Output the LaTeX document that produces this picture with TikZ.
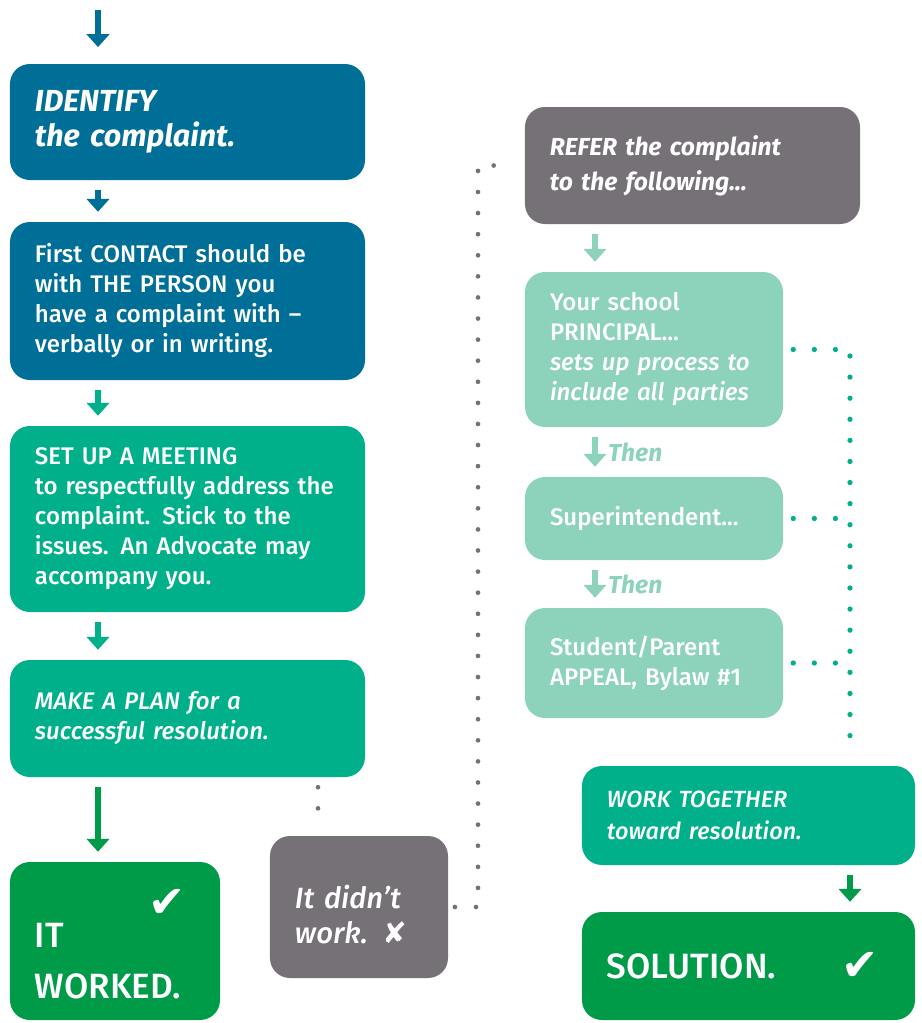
\documentclass[tikz,border=0pt]{standalone}
\usepackage{fontspec}
\setmainfont{Fira Sans}[UprightFont=* Medium,ItalicFont=* Medium Italic,
  BoldFont=* Bold,BoldItalicFont=* Bold Italic]
\newfontfamily\symfont{DejaVu Sans}
\usetikzlibrary{arrows.meta}
\definecolor{cblue}{RGB}{0,111,152}
\definecolor{cteal}{RGB}{0,176,138}
\definecolor{cgreen}{RGB}{0,155,72}
\definecolor{clight}{RGB}{141,211,188}
\definecolor{cgray}{RGB}{118,113,118}
\newcommand{\body}{\fontsize{20.5}{25.6}\selectfont}
\newcommand{\chk}{{\symfont ✔}}
\newcommand{\ex}{{\symfont ✘}}

\begin{document}
\begin{tikzpicture}[x=0.03cm,y=-0.03cm,
    box/.style 2 args={rounded corners=17pt,inner xsep=0.75cm,inner ysep=0pt,
      text width=#1,minimum height=#2,align=left,text=white,font=\body},
    flow/.style={line width=4.5pt,-{Triangle[width=19pt,length=11pt]},
      shorten <=0.3cm,shorten >=0.3cm},
    dots/.style={line width=#1,line cap=round,dash pattern=on 0pt off 18pt,
      shorten <=0.3cm,shorten >=0.3cm},
    thenlabel/.style={midway,anchor=west,xshift=9pt,inner sep=0pt,text=clight,
      font=\bfseries\itshape\fontsize{21}{25}\selectfont}]
  \useasboundingbox (0,0) rectangle (922,1023);

  \node[box={9.15cm}{3.48cm},fill=cblue,font=\bfseries\itshape\fontsize{26}{30}\selectfont]
    (identify) at (187.5,122) {IDENTIFY\\the complaint.};
  \node[box={9.15cm}{4.74cm},fill=cblue] (contact) at (187.5,301)
    {First CONTACT should be\\with THE PERSON you\\have a complaint with –\\verbally or in writing.};
  \node[box={9.15cm}{5.58cm},fill=cteal] (meeting) at (187.5,519)
    {SET UP A MEETING\\\mbox{to respectfully address the}\\complaint. Stick to the\\issues. An Advocate may\\accompany you.};
  \node[box={9.15cm}{3.51cm},fill=cteal,font=\itshape\body] (plan) at (187.5,718.5)
    {MAKE A PLAN for a\\successful resolution.};
  \node[box={4.8cm}{4.74cm},fill=cgreen,font=\fontsize{30}{44}\selectfont,text height=55pt]
    (worked) at (115,941) {IT\\WORKED.};
  \node[text=white,font=\fontsize{38}{40}\selectfont] (tick1) at (167,903) {\chk};
  \node[box={3.84cm}{4.26cm},fill=cgray,font=\itshape\fontsize{25}{30}\selectfont,text height=33pt]
    (didnt) at (359,907) {It didn’t\\work. \ex};

  \node[box={8.55cm}{3.51cm},fill=cgray,font=\bfseries\itshape\fontsize{21}{30}\selectfont]
    (refer) at (692.5,165.5) {REFER the complaint\\to the following...};
  \node[box={6.24cm}{4.65cm},fill=clight] (principal) at (654,349.5)
    {Your school\\PRINCIPAL...\\\textit{sets up process to}\\\textit{include all parties}};
  \node[box={6.24cm}{2.49cm},fill=clight] (super) at (654,518.5) {Superintendent...};
  \node[box={6.24cm}{3.3cm},fill=clight] (student) at (654,663)
    {Student/Parent\\APPEAL, Bylaw \#1};
  \node[box={8.49cm}{2.97cm},fill=cteal,font=\itshape\fontsize{20}{27}\selectfont]
    (work) at (748.5,815.5) {WORK TOGETHER\\toward resolution.};
  \node[box={8.49cm}{3.24cm},fill=cgreen,font=\fontsize{30}{36}\selectfont]
    (solution) at (748.5,966) {SOLUTION.};
  \node[text=white,font=\fontsize{38}{40}\selectfont] (tick2) at (860,966) {\chk};

  \coordinate (top) at (98,10);
  \coordinate (rcol) at (595,0);
  \coordinate (gcol) at (850,0);
  \coordinate (px) at (318,0);
  \coordinate (gx) at (478,0);

  \draw[flow,cblue,shorten <=0pt,shorten >=0.5cm] (top) -- (identify.north -| top);
  \draw[flow,cblue] (identify.south -| top) -- (contact.north -| top);
  \draw[flow,cteal] (contact.south -| top) -- (meeting.north -| top);
  \draw[flow,cteal] (meeting.south -| top) -- (plan.north -| top);
  \draw[flow,cgreen] (plan.south -| top) -- (worked.north -| top);

  \draw[flow,clight] (refer.south -| rcol) -- (principal.north -| rcol);
  \draw[flow,clight] (principal.south -| rcol) -- (super.north -| rcol)
    node[thenlabel] (then1) {Then};
  \draw[flow,clight] (super.south -| rcol) -- (student.north -| rcol)
    node[thenlabel] (then2) {Then};
  \draw[flow,cgreen] (work.south -| gcol) -- (solution.north -| gcol);

  \draw[dots=4pt,cgray] (plan.south -| px) -- (didnt.north -| px);
  \draw[dots=4pt,cgray,shorten <=0.2cm] (didnt.east) -| (gx |- refer.west) -- (refer.west);
  \draw[dots=4.5pt,cteal] (principal.east) -| (work.north -| gcol);
  \draw[dots=4.5pt,cteal] (super.east) -- (super.east -| gcol);
  \draw[dots=4.5pt,cteal] (student.east) -- (student.east -| gcol);
\end{tikzpicture}
\end{document}
